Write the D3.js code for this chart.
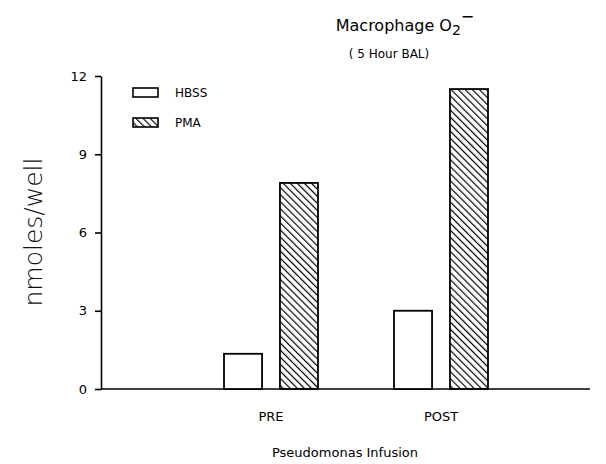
<!DOCTYPE html>
<html>
<head>
<meta charset="utf-8">
<script src="https://cdn.jsdelivr.net/npm/d3@7"></script>
<style>
  body { margin: 0; background: #fff; }
  text { font-family: "DejaVu Sans", "Liberation Sans", sans-serif; fill: #000; }
</style>
</head>
<body>
<svg id="chart" width="606" height="464"></svg>
<script>
// data
const groups = ["PRE", "POST"];
const series = ["HBSS", "PMA"];
const hbss = [1.35, 3.0];
const pma = [7.9, 11.5];
const yTicks = [0, 3, 6, 9, 12];
const yTickLabels = ["0", "3", "6", "9", "12"];

const svg = d3.select("#chart");

// hatch pattern
svg.append("defs").append("pattern")
    .attr("id", "hatch")
    .attr("patternUnits", "userSpaceOnUse")
    .attr("width", 5)
    .attr("height", 5)
    .attr("patternTransform", "rotate(-45)")
    .append("line")
    .attr("x1", 0).attr("y1", 0)
    .attr("x2", 0).attr("y2", 5)
    .attr("stroke", "#000")
    .attr("stroke-width", 2.4);

const axisLeftX = 101;
const axisRightX = 590;

const y = d3.scaleLinear()
    .domain([0, 12])
    .range([389, 76]);

const x = d3.scaleBand()
    .domain(groups)
    .range([186, 526])
    .padding(0);

const xSub = d3.scaleBand()
    .domain(series)
    .range([38, 132])
    .paddingInner(0.32)
    .paddingOuter(0);

// y axis
const yAxis = d3.axisLeft(y)
    .tickValues(yTicks)
    .tickFormat((d, i) => yTickLabels[i])
    .tickSize(6)
    .tickSizeOuter(0)
    .tickPadding(8);

const gy = svg.append("g")
    .attr("transform", `translate(${axisLeftX},0)`)
    .call(yAxis);
gy.select(".domain").attr("stroke", "#000").attr("stroke-width", 1.6);
gy.selectAll(".tick line").attr("stroke", "#000").attr("stroke-width", 1.6);
gy.selectAll(".tick text")
    .style("font-size", "13px")
    .style("font-family", "DejaVu Sans, sans-serif");

// x baseline
svg.append("line")
    .attr("x1", axisLeftX).attr("x2", axisRightX)
    .attr("y1", y(0)).attr("y2", y(0))
    .attr("stroke", "#000")
    .attr("stroke-width", 1.6);

// x tick labels
const xAxis = d3.axisBottom(x).tickSize(0).tickPadding(23);
const gx = svg.append("g")
    .attr("transform", `translate(0,${y(0)})`)
    .call(xAxis);
gx.select(".domain").remove();
gx.selectAll(".tick text")
    .style("font-size", "13px")
    .style("font-family", "DejaVu Sans, sans-serif");

// bars
const barData = [];
groups.forEach((g, i) => {
    barData.push({ group: g, key: "HBSS", value: hbss[i] });
    barData.push({ group: g, key: "PMA", value: pma[i] });
});

svg.selectAll(".bar")
    .data(barData)
    .enter().append("rect")
    .attr("class", "bar")
    .attr("x", d => x(d.group) + xSub(d.key))
    .attr("y", d => y(d.value))
    .attr("width", xSub.bandwidth())
    .attr("height", d => y(0) - y(d.value))
    .attr("fill", d => d.key === "PMA" ? "url(#hatch)" : "#fff")
    .attr("stroke", "#000")
    .attr("stroke-width", 1.8);

// legend
const legend = svg.append("g").attr("transform", "translate(133,88)");
series.forEach((s, i) => {
    legend.append("rect")
        .attr("x", 0)
        .attr("y", i * 30)
        .attr("width", 25)
        .attr("height", 9)
        .attr("fill", s === "PMA" ? "url(#hatch)" : "#fff")
        .attr("stroke", "#000")
        .attr("stroke-width", 1.6);
    legend.append("text")
        .attr("x", 42)
        .attr("y", i * 30 + 5)
        .attr("dominant-baseline", "middle")
        .style("font-size", "12px")
        .text(s);
});

// title
const title = svg.append("text")
    .attr("x", 405)
    .attr("y", 31)
    .attr("text-anchor", "middle")
    .style("font-size", "16px");
title.append("tspan").text("Macrophage O");
title.append("tspan").attr("dy", 4).style("font-size", "14px").text("2");
title.append("tspan").attr("dy", -13).style("font-size", "16px").text("\u2212");

svg.append("text")
    .attr("x", 389)
    .attr("y", 58)
    .attr("text-anchor", "middle")
    .style("font-size", "12px")
    .text("( 5 Hour BAL)");

// y label
svg.append("text")
    .attr("transform", "translate(42,232) rotate(-90)")
    .attr("text-anchor", "middle")
    .style("font-size", "25px")
    .style("font-weight", "300")
    .style("fill", "#111")
    .text("nmoles/well");

// x label
svg.append("text")
    .attr("x", 345)
    .attr("y", 457)
    .attr("text-anchor", "middle")
    .style("font-size", "13px")
    .text("Pseudomonas Infusion");
</script>
</body>
</html>
